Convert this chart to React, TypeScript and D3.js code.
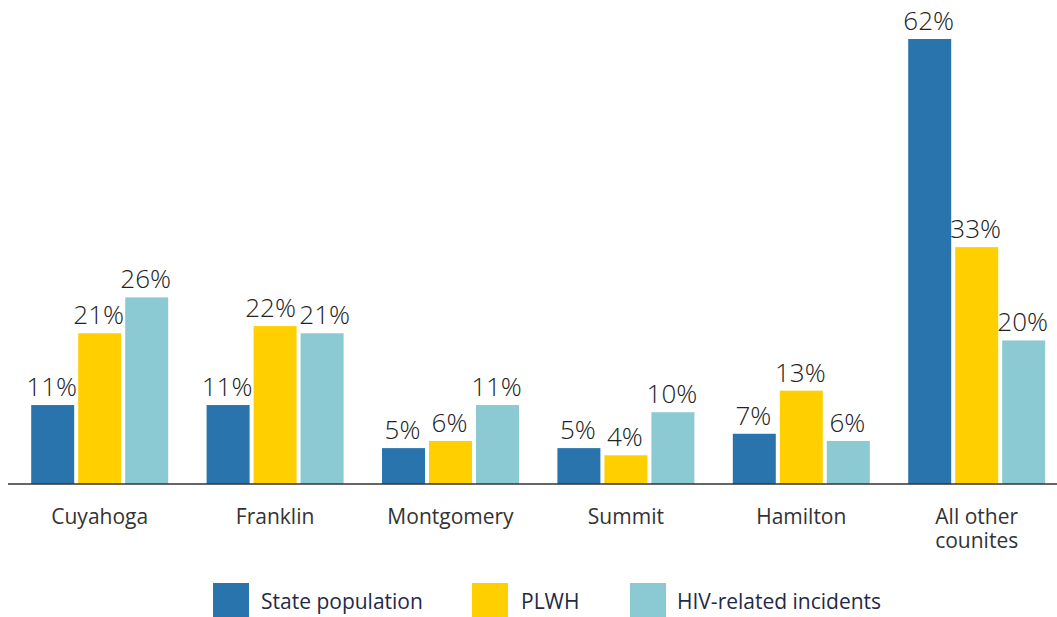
import React from "react";
import * as d3 from "d3";

const categories: string[][] = [
  ["Cuyahoga"],
  ["Franklin"],
  ["Montgomery"],
  ["Summit"],
  ["Hamilton"],
  ["All other", "counites"],
];
const seriesNames = ["State population", "PLWH", "HIV-related incidents"];
const statePopulation = [11, 11, 5, 5, 7, 62];
const plwh = [21, 22, 6, 4, 13, 33];
const hivIncidents = [26, 21, 11, 10, 6, 20];
const seriesValues = [statePopulation, plwh, hivIncidents];
const colors = ["#2a74ad", "#ffcf00", "#8bc9d3"];

const W = 1057;
const H = 617;
const FONT = "'Open Sans', 'Noto Sans', sans-serif";
const VAL_FS = 26;

function labelWidth(s: string, fs: number) {
  let w = 0;
  for (const c of s) w += c === "%" ? 0.822 : 0.572;
  return w * fs;
}

export default function App() {
  const x0 = d3
    .scaleBand<number>()
    .domain(categories.map((_, i) => i))
    .range([12, 12 + 6 * 175.4])
    .padding(0);
  const groupW = 137;
  const x1 = d3
    .scaleBand<number>()
    .domain([0, 1, 2])
    .range([0, groupW])
    .paddingInner(4 / 47);
  const y = d3.scaleLinear().domain([0, 62]).range([484, 39]);
  const baseY = y(0);

  const legendItems = [
    { sq: 213, tx: 261 },
    { sq: 472, tx: 521 },
    { sq: 630, tx: 677 },
  ];

  return (
    <svg
      width={W}
      height={H}
      style={{ position: "absolute", left: 0, top: 0, display: "block" }}
      fontFamily={FONT}
    >
      <rect width={W} height={H} fill="#fff" />
      {categories.map((cat, ci) => {
        const cx = (x0(ci) as number) + x0.bandwidth() / 2;
        const gx = cx - groupW / 2;
        const labels = seriesValues.map((vals, si) => {
          const v = vals[ci];
          const bx = gx + (x1(si) as number);
          const t = `${v}%`;
          return { v, t, bx, x: bx + x1.bandwidth() / 2 - 1, y: y(v) - 9, w: labelWidth(t, VAL_FS) };
        });
        for (let k = 0; k < labels.length - 1; k++) {
          const a = labels[k];
          const b = labels[k + 1];
          if (Math.abs(a.y - b.y) < VAL_FS) {
            const overlap = a.x + a.w / 2 + 3 - (b.x - b.w / 2);
            if (overlap > 0) {
              a.x -= overlap / 2;
              b.x += overlap / 2;
            }
          }
        }
        return (
          <g key={ci}>
            {labels.map((l, si) => (
              <g key={si}>
                <rect
                  x={l.bx}
                  y={y(l.v)}
                  width={x1.bandwidth()}
                  height={baseY - y(l.v)}
                  fill={colors[si]}
                />
                <text
                  x={l.x}
                  y={l.y}
                  textAnchor="middle"
                  fontSize={VAL_FS}
                  fontWeight={350}
                  fill="#222"
                >
                  {l.t}
                </text>
              </g>
            ))}
            <text x={cx} y={524} textAnchor="middle" fontSize={21} fill="#333">
              {cat.map((line, li) => (
                <tspan key={li} x={cx} dy={li === 0 ? 0 : 24}>
                  {line}
                </tspan>
              ))}
            </text>
          </g>
        );
      })}
      <line x1={8} x2={W} y1={baseY} y2={baseY} stroke="#333" strokeWidth={1.5} />
      {seriesNames.map((name, i) => (
        <g key={name}>
          <rect x={legendItems[i].sq} y={583} width={36} height={34} fill={colors[i]} />
          <text x={legendItems[i].tx} y={609} fontSize={21} fill="#1f2a48">
            {name}
          </text>
        </g>
      ))}
    </svg>
  );
}
